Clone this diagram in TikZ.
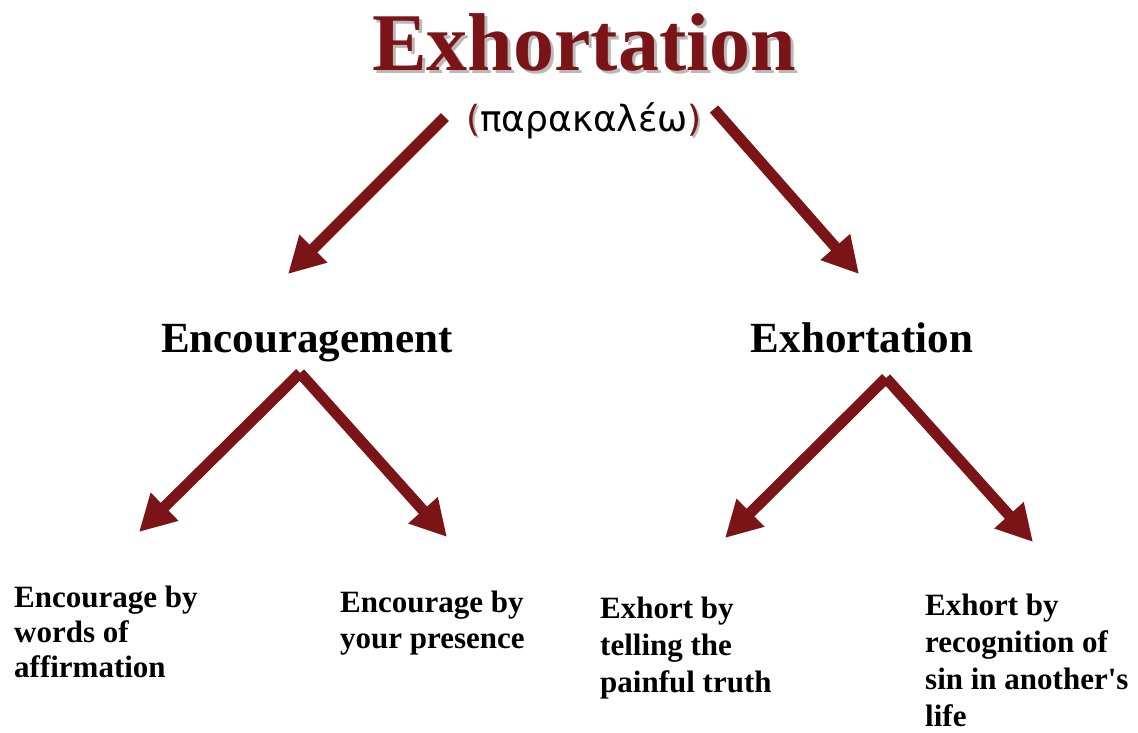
\documentclass[tikz,border=0pt]{standalone}
\usepackage{fontspec}
\setmainfont{Liberation Serif}
\newfontfamily\greekfont{DejaVu Sans}
\usetikzlibrary{arrows.meta}
\definecolor{maroon}{RGB}{123,20,22}
\definecolor{shade}{RGB}{185,185,185}
\begin{document}
\begin{tikzpicture}[x=1pt,y=-1pt,
  bigarrow/.style={draw=maroon,line width=11pt,line cap=butt,
    -{Triangle[length=36pt,width=37pt]}},
  heading/.style={font=\bfseries\fontsize{43}{50}\selectfont,anchor=base,inner sep=0pt},
  leaf/.style={font=\bfseries\fontsize{31}{#1}\selectfont,anchor=base west,
    align=left,inner sep=0pt},
  leaf/.default=36]
\useasboundingbox (0,0) rectangle (1138,732);

% title, set over its grey drop shadow
\node[anchor=base,inner sep=0pt,font=\bfseries\fontsize{82}{90}\selectfont]
  (title) at (584,70)
  {\makebox[0pt][l]{\hspace{3pt}\raisebox{-3pt}{\textcolor{shade}{Exhortation}}}\textcolor{maroon}{Exhortation}};

% Greek word in red parentheses
\node[anchor=base,inner sep=0pt,font=\greekfont\fontsize{36}{40}\selectfont]
  (greek) at (584,131)
  {\makebox[0pt][l]{\hspace{2pt}\raisebox{-2pt}{\textcolor{shade}{(}}}\textcolor{maroon}{(}παρακαλέω\makebox[0pt][l]{\hspace{2pt}\raisebox{-2pt}{\textcolor{shade}{)}}}\textcolor{maroon}{)}};

% second level
\node[heading] (enc) at (307,352) {Encouragement};
\node[heading] (exh) at (862,352) {Exhortation};

% leaves (anchored at the baseline of their last line)
\node[leaf=35] (words) at (14,677) {Encourage by\\words of\\affirmation};
\node[leaf=36] (presence) at (340,648) {Encourage by\\your presence};
\node[leaf=37] (truth) at (600,692) {Exhort by\\telling the\\painful truth};
\node[leaf=37] (sin) at (925,726) {Exhort by\\recognition of\\sin in another\textquotesingle s\\life};

% arrow ends
\coordinate (tl) at (445,117);
\coordinate (tr) at (714,109);
\coordinate (encTop) at (300,373);
\coordinate (exhTop) at (886,378);
\coordinate (encTip) at (288,274);
\coordinate (exhTip) at (859,274);
\coordinate (wordsTip) at (139,532);
\coordinate (presTip) at (447,537);
\coordinate (truthTip) at (725,538);
\coordinate (sinTip) at (1033,542);

\draw[bigarrow] (tl) -- (encTip);
\draw[bigarrow] (tr) -- (exhTip);
\draw[bigarrow] (encTop) -- (wordsTip);
\draw[bigarrow] (encTop) -- (presTip);
\draw[bigarrow] (exhTop) -- (truthTip);
\draw[bigarrow] (exhTop) -- (sinTip);
\end{tikzpicture}
\end{document}
